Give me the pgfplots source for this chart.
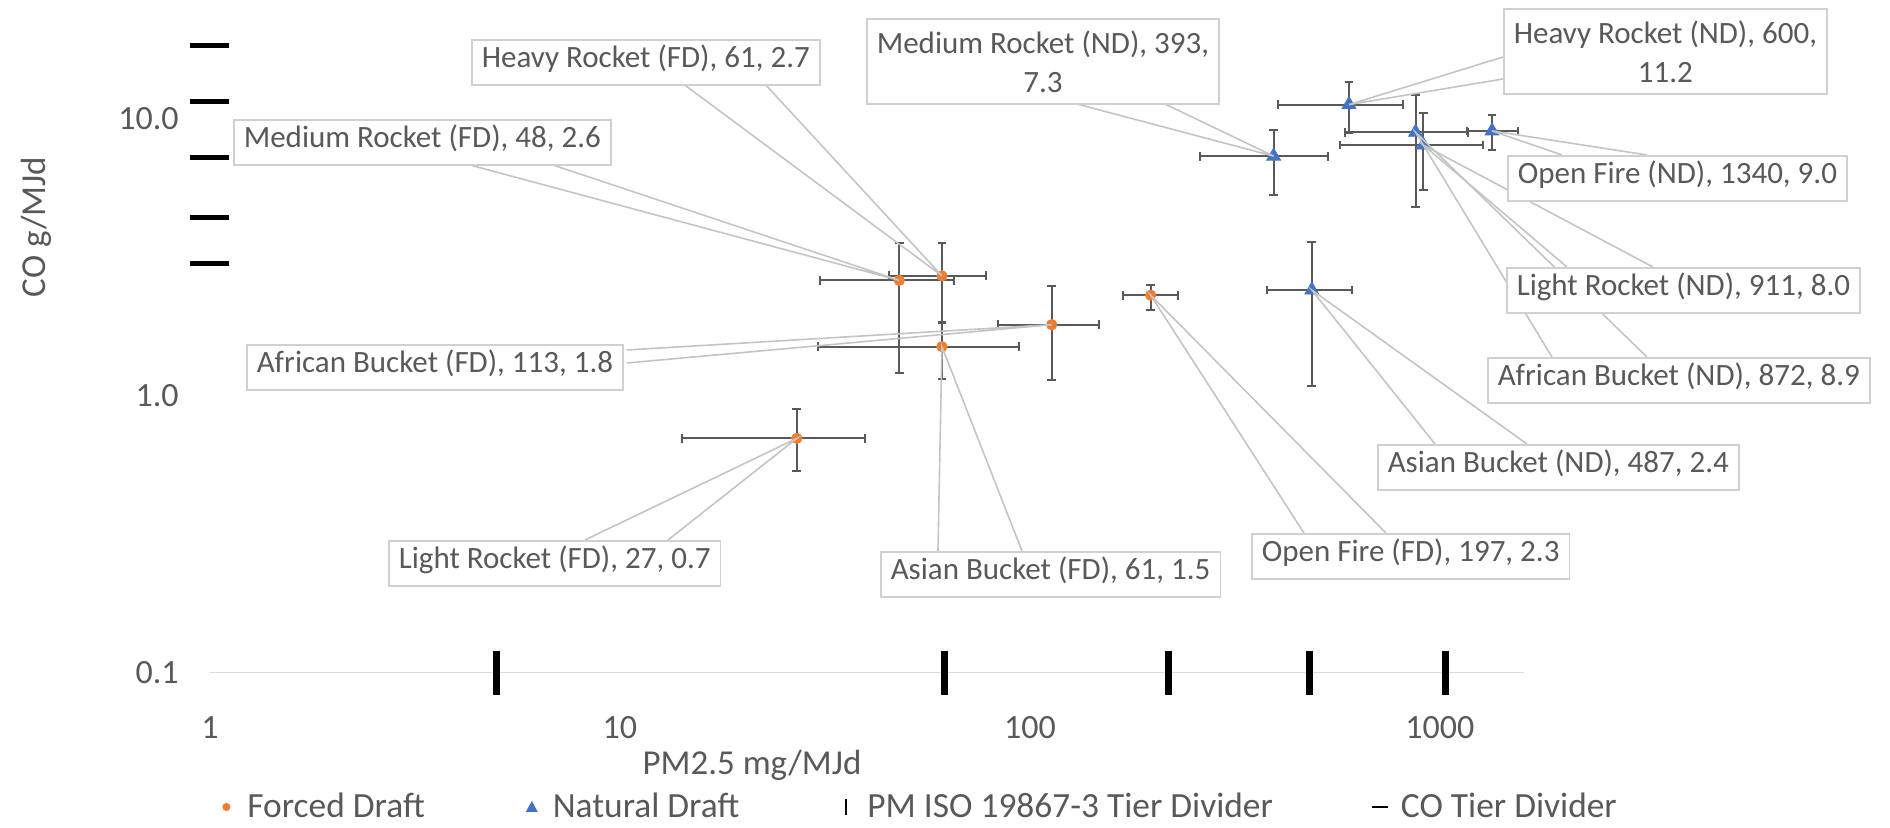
\documentclass[border=0pt]{standalone}
\usepackage{pgfplots}
\pgfplotsset{compat=1.18}
\usepackage{fontspec}
\setmainfont{Carlito}

\definecolor{fdcol}{HTML}{ED7D31}
\definecolor{ndcol}{HTML}{4472C4}
\definecolor{ebar}{HTML}{595959}
\definecolor{txt}{HTML}{595959}
\definecolor{leader}{HTML}{C4C4C4}
\definecolor{boxline}{HTML}{D0D0D0}
\definecolor{axline}{HTML}{D9D9D9}

\begin{document}
\begin{tikzpicture}[
  lbl/.style={draw=boxline, line width=0.8bp, fill=white, text=txt, anchor=north west,
    font=\fontsize{15.5bp}{19.5bp}\selectfont, inner xsep=5bp, inner ysep=0bp,
    minimum height=22.5bp, text height=0.75em, text depth=0.25em},
  lbltwo/.style={draw=boxline, line width=0.8bp, fill=white, text=txt, anchor=north west,
    font=\fontsize{15.5bp}{19.5bp}\selectfont, inner xsep=5bp, inner ysep=0bp,
    minimum height=42.5bp, align=center},
  leader/.style={draw=leader, line width=0.8bp}
]
\begin{axis}[
  scale only axis, width=656.8bp, height=318.9bp,
  xmode=log, ymode=log,
  xmin=1, xmax=1600, ymin=0.1, ymax=20,
  axis lines*=left,
  x axis line style={draw=axline, line width=0.8bp},
  y axis line style={draw=none},
  xtick={1,10,100,1000}, xticklabels={1,10,100,1000},
  ytick={0.1,1,10}, yticklabels={0.1,1.0,10.0},
  major tick length=0pt, minor tick length=0pt,
  xminorticks=false, yminorticks=false,
  tick style={draw=none},
  ticklabel style={font=\fontsize{17bp}{20bp}\selectfont, text=txt, inner sep=0pt},
  xticklabel style={anchor=center, yshift=-27.7bp},
  yticklabel style={anchor=east, xshift=-15.5bp},
  clip=false,
  legend columns=4,
  legend style={at={(axis description cs:0.0046,-0.2107)}, anchor=west, draw=none, fill=none,
    inner sep=0pt, font=\fontsize{17.7bp}{20bp}\selectfont, text=txt,
    nodes={inner sep=0pt},
    /tikz/every even column/.append style={column sep=48.5bp}},
  legend cell align=left,
  error bars/error bar style={line width=1bp, ebar},
  error bars/error mark options={rotate=90, line width=1bp, ebar, mark size=2.2bp},
]
% forced draft
\addplot[only marks, mark=*, mark size=2.6bp, color=fdcol,
  legend image code/.code={\fill[fdcol] (0bp,0bp) circle (1.8bp); \path[draw=none,fill=none] (-5bp,0bp) -- (10.5bp,0bp);},
  error bars/.cd, x dir=both, y dir=both, x explicit, y explicit]
  coordinates {
  (27,0.7)  += (12.7,0.19)  -= (12.8,0.165)
  (48,2.6)  += (17.3,0.94)  -= (17.3,1.40)
  (61,2.7)  += (17.1,0.85)  -= (15.6,0.88)
  (61,1.5)  += (33.2,0.345) -= (30.6,0.35)
  (113,1.8) += (34.3,0.68)  -= (29.3,0.66)
  (197,2.3) += (33,0.2)     -= (28,0.27)
  };
% natural draft
\addplot[only marks, mark=triangle*, mark size=4bp, color=ndcol,
  legend image code/.code={\fill[ndcol] (-2.6bp,-2.2bp) -- (2.6bp,-2.2bp) -- (0bp,2.6bp) -- cycle; \path[draw=none,fill=none] (-5bp,0bp) -- (10.5bp,0bp);},
  error bars/.cd, x dir=both, y dir=both, x explicit, y explicit]
  coordinates {
  (393,7.3)  += (139,1.8)  -= (133,2.0)
  (600,11.2) += (214,2.3)  -= (197,2.36)
  (1340,9.0) += (212,1.27) -= (179,1.32)
  (911,8.0)  += (363,2.46) -= (341,2.5)
  (872,8.9)  += (298,3.2)  -= (286,4.1)
  (487,2.4)  += (123,1.18) -= (108,1.32)
  };
% PM ISO 19867-3 tier dividers
\addplot[only marks, mark=|, mark size=11bp, mark options={line width=3.5bp, black},
  legend image code/.code={\draw[black, line width=1bp] (0bp,-4bp) -- (0bp,4bp); \path[draw=none,fill=none] (-5bp,0bp) -- (10.5bp,0bp);}]
  coordinates {(5,0.1) (62,0.1) (218,0.1) (481,0.1) (1031,0.1)};
% CO tier dividers
\addplot[only marks, mark=-, mark size=9.75bp, mark options={line width=2.5bp, black},
  legend image code/.code={\draw[black, line width=1.3bp] (-4bp,0bp) -- (4bp,0bp); \path[draw=none,fill=none] (-5bp,0bp) -- (10.5bp,0bp);}]
  coordinates {(1,3.0) (1,4.4) (1,7.2) (1,11.5) (1,18.3)};
\legend{Forced Draft, Natural Draft, PM ISO 19867-3 Tier Divider, CO Tier Divider}

\coordinate (fLR) at (axis cs:27,0.7);
\coordinate (fMR) at (axis cs:48,2.6);
\coordinate (fHR) at (axis cs:61,2.7);
\coordinate (fAs) at (axis cs:61,1.5);
\coordinate (fAf) at (axis cs:113,1.8);
\coordinate (fOF) at (axis cs:197,2.3);
\coordinate (nMR) at (axis cs:393,7.3);
\coordinate (nHR) at (axis cs:600,11.2);
\coordinate (nOF) at (axis cs:1340,9.0);
\coordinate (nLR) at (axis cs:911,8.0);
\coordinate (nAf) at (axis cs:872,8.9);
\coordinate (nAs) at (axis cs:487,2.4);
\end{axis}

% labels placed in pixel units of the reference
\begin{scope}[shift={(-105bp,336.3bp)}, x=0.5bp, y=-0.5bp]
\draw[leader] (682,83) -- (fHR) -- (764,83);
\draw[leader] (470,165) -- (fMR) -- (553,165);
\draw[leader] (1077,104) -- (nMR) -- (1165,104);
\draw[leader] (1503,57) -- (nHR) -- (1503,79);
\draw[leader] (1562,155) -- (nOF) -- (1647,155);
\draw[leader] (1567,267) -- (nLR) -- (1653,267);
\draw[leader] (1552,357) -- (nAf) -- (1647,357);
\draw[leader] (1435,444) -- (nAs) -- (1527,444);
\draw[leader] (1304,533) -- (fOF) -- (1386,533);
\draw[leader] (938,551) -- (fAs) -- (1022,551);
\draw[leader] (627,350) -- (fAf) -- (627,363);
\draw[leader] (585,540) -- (fLR) -- (668,540);

\node[lbl] at (471,39) {Heavy Rocket (FD), 61, 2.7};
\node[lbl] at (233,119) {Medium Rocket (FD), 48, 2.6};
\node[lbltwo] at (866,18) {Medium Rocket (ND), 393,\\7.3};
\node[lbltwo] at (1503,8) {Heavy Rocket (ND), 600,\\11.2};
\node[lbl] at (1507,155) {Open Fire (ND), 1340, 9.0};
\node[lbl] at (1506,267) {Light Rocket (ND), 911, 8.0};
\node[lbl] at (1487,357) {African Bucket (ND), 872, 8.9};
\node[lbl] at (1377,444) {Asian Bucket (ND), 487, 2.4};
\node[lbl] at (1251,533) {Open Fire (FD), 197, 2.3};
\node[lbl] at (880,551) {Asian Bucket (FD), 61, 1.5};
\node[lbl] at (246,344) {African Bucket (FD), 113, 1.8};
\node[lbl] at (388,540) {Light Rocket (FD), 27, 0.7};

\node[rotate=90, text=txt, font=\fontsize{17.5bp}{20bp}\selectfont] at (36,227) {CO g/MJd};
\node[text=txt, font=\fontsize{17.5bp}{20bp}\selectfont] at (752,765) {PM2.5 mg/MJd};
\end{scope}
\pgfresetboundingbox
\path[use as bounding box] (-105bp,336.3bp) rectangle ++(945bp,-414bp);
\end{tikzpicture}
\end{document}
